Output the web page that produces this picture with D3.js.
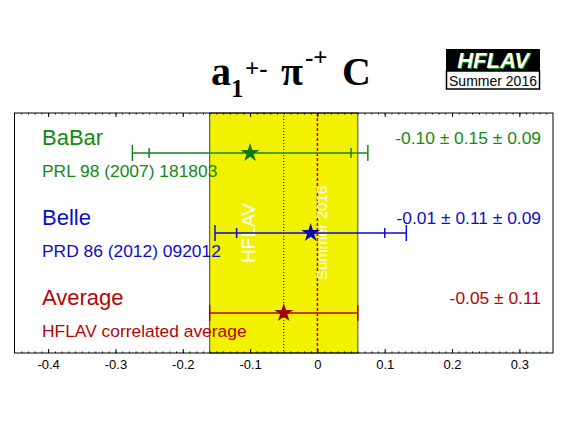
<!DOCTYPE html>
<html>
<head>
<meta charset="utf-8">
<script src="https://cdn.jsdelivr.net/npm/d3@7"></script>
<style>
  body { margin: 0; background: #fff; }
  svg { display: block; }
  text { font-family: "Liberation Sans", Helvetica, Arial, sans-serif; }
</style>
</head>
<body>
<svg width="567" height="425"></svg>
<script>
// measurements (HFLAV Summer 2016, a1 pi C)
var experiments = ['BaBar', 'Belle', 'Average'];
var references = ['PRL 98 (2007) 181803', 'PRD 86 (2012) 092012', 'HFLAV correlated average'];
var centralValues = [-0.10, -0.01, -0.05];
var statErrors = [0.15, 0.11, 0.11];
var systErrors = [0.09, 0.09, 0];
var valueLabels = ['-0.10 \u00b1 0.15 \u00b1 0.09', '-0.01 \u00b1 0.11 \u00b1 0.09', '-0.05 \u00b1 0.11'];
var tickValues = [-0.4, -0.3, -0.2, -0.1, 0, 0.1, 0.2, 0.3];
var tickLabels = ['-0.4', '-0.3', '-0.2', '-0.1', '0', '0.1', '0.2', '0.3'];

var avg = centralValues[2], avgErr = statErrors[2];

var svg = d3.select('svg');
// note: 'top' is window.top, so use other names
var plotL = 14.5, plotR = 553, plotT = 113, plotB = 353;

var x = d3.scaleLinear().domain([-0.45, 0.35]).range([plotL, plotR]);
var y = d3.scalePoint().domain(experiments).range([153, 313]);
var color = d3.scaleOrdinal().domain(experiments).range(['#138a13', '#0c0cd0', '#b40505']);

var rows = experiments.map(function(e, i) {
  var tot = Math.sqrt(statErrors[i]*statErrors[i] + systErrors[i]*systErrors[i]);
  return {name:e, ref:references[i], val:centralValues[i], stat:statErrors[i], syst:systErrors[i], tot:tot, label:valueLabels[i]};
});

// average band
svg.append('rect')
  .attr('x', x(avg - avgErr)).attr('y', plotT)
  .attr('width', x(avg + avgErr) - x(avg - avgErr)).attr('height', plotB - plotT)
  .style('fill', '#f2f200')
  .style('stroke', '#444').style('stroke-width', 1);

// average line (dotted) and zero line (dashed)
svg.append('line')
  .attr('x1', x(avg)).attr('x2', x(avg)).attr('y1', plotT).attr('y2', plotB)
  .style('stroke', '#000').style('stroke-width', 1).style('stroke-dasharray', '1,2');
svg.append('line')
  .attr('x1', x(0)).attr('x2', x(0)).attr('y1', plotT).attr('y2', plotB)
  .style('stroke', '#c00000').style('stroke-width', 1.5).style('stroke-dasharray', '3,2');

// watermark
svg.append('text')
  .attr('transform', 'translate(255,233) rotate(-90)')
  .attr('text-anchor', 'middle')
  .style('font-size', '19px').style('fill', '#fff')
  .text('HFLAV');
svg.append('text')
  .attr('transform', 'translate(327,233) rotate(-90)')
  .attr('text-anchor', 'middle')
  .style('font-size', '15px').style('fill', '#fff')
  .text('Summer 2016');

// error bars
var bars = svg.selectAll('g.row')
  .data(rows)
  .enter()
  .append('g')
  .attr('class', 'row')
  .style('stroke', function(d){return color(d.name);})
  .style('stroke-width', 1.5);

bars.append('line')
  .attr('x1', function(d){return x(d.val - d.tot);})
  .attr('x2', function(d){return x(d.val + d.tot);})
  .attr('y1', function(d){return y(d.name);})
  .attr('y2', function(d){return y(d.name);});

// outer caps (total error)
[-1, 1].forEach(function(s) {
  bars.append('line')
    .attr('x1', function(d){return x(d.val + s*d.tot);})
    .attr('x2', function(d){return x(d.val + s*d.tot);})
    .attr('y1', function(d){return y(d.name) - 8;})
    .attr('y2', function(d){return y(d.name) + 8;});
  // inner caps (stat only), only when there is a syst part
  bars.filter(function(d){return d.syst > 0;})
    .append('line')
    .attr('x1', function(d){return x(d.val + s*d.stat);})
    .attr('x2', function(d){return x(d.val + s*d.stat);})
    .attr('y1', function(d){return y(d.name) - 5;})
    .attr('y2', function(d){return y(d.name) + 5;});
});

// stars
svg.selectAll('path.star')
  .data(rows)
  .enter()
  .append('path')
  .attr('class', 'star')
  .attr('d', d3.symbol().type(d3.symbolStar).size(110))
  .attr('transform', function(d){return 'translate(' + x(d.val) + ',' + y(d.name) + ')';})
  .style('fill', function(d){return d3.color(color(d.name)).darker(0.4);});

// labels
svg.selectAll('text.name')
  .data(rows)
  .enter()
  .append('text')
  .attr('class', 'name')
  .attr('x', 42)
  .attr('y', function(d){return y(d.name) - 8;})
  .style('font-size', '22px')
  .style('fill', function(d){return color(d.name);})
  .text(function(d){return d.name;});

svg.selectAll('text.ref')
  .data(rows)
  .enter()
  .append('text')
  .attr('class', 'ref')
  .attr('x', 42)
  .attr('y', function(d){return y(d.name) + 24;})
  .style('font-size', '17.4px')
  .style('fill', function(d){return color(d.name);})
  .text(function(d){return d.ref;});

svg.selectAll('text.value')
  .data(rows)
  .enter()
  .append('text')
  .attr('class', 'value')
  .attr('x', 541)
  .attr('y', function(d){return y(d.name) - 9;})
  .attr('text-anchor', 'end')
  .style('font-size', '17.4px')
  .style('fill', function(d){return color(d.name);})
  .text(function(d){return d.label;});

// frame
svg.append('rect')
  .attr('x', plotL).attr('y', plotT)
  .attr('width', plotR - plotL).attr('height', plotB - plotT)
  .style('fill', 'none').style('stroke', '#000').style('stroke-width', 1);

// axes
var minor = d3.range(-44, 35).map(function(i){return i/100;});
var bottomAxis = d3.axisBottom(x)
  .tickValues(tickValues)
  .tickSize(-4)
  .tickPadding(7)
  .tickFormat(function(d, i){return tickLabels[i];});
var gb = svg.append('g').attr('transform', 'translate(0,' + plotB + ')').call(bottomAxis);
gb.select('.domain').remove();
gb.selectAll('text').style('font-size', '13px').style('font-family', '"Liberation Sans", Arial, sans-serif');

var gbm = svg.append('g').attr('transform', 'translate(0,' + plotB + ')')
  .call(d3.axisBottom(x).tickValues(minor).tickSize(-1.5).tickFormat(''));
gbm.select('.domain').remove();

var gt = svg.append('g').attr('transform', 'translate(0,' + plotT + ')')
  .call(d3.axisTop(x).tickValues(tickValues).tickSize(-4).tickFormat(''));
gt.select('.domain').remove();
var gtm = svg.append('g').attr('transform', 'translate(0,' + plotT + ')')
  .call(d3.axisTop(x).tickValues(minor).tickSize(-1.5).tickFormat(''));
gtm.select('.domain').remove();

// title
var title = svg.append('text')
  .style('font-family', '"Liberation Serif", "Times New Roman", serif')
  .style('font-weight', 'bold')
  .style('fill', '#000');
title.append('tspan').attr('x', 211).attr('y', 85).style('font-size', '40px').text('a');
title.append('tspan').attr('x', 231).attr('y', 97).style('font-size', '25px').text('1');
title.append('tspan').attr('x', 245).attr('y', 77).style('font-size', '25px').text('+-');
title.append('tspan').attr('x', 281).attr('y', 85).style('font-size', '40px').text('\u03c0');
title.append('tspan').attr('x', 305).attr('y', 66).style('font-size', '25px').text('-+');
title.append('tspan').attr('x', 342).attr('y', 85).style('font-size', '40px').text('C');

// HFLAV logo
var logo = svg.append('g');
logo.append('rect').attr('x', 446).attr('y', 49).attr('width', 94).attr('height', 22).style('fill', '#000');
logo.append('rect').attr('x', 446.5).attr('y', 71).attr('width', 93).attr('height', 18)
  .style('fill', '#fff').style('stroke', '#000').style('stroke-width', 1.5);
logo.append('text').attr('x', 494).attr('y', 69).attr('text-anchor', 'middle')
  .style('font-size', '22px').style('font-weight', 'bold').style('font-style', 'italic')
  .style('fill', '#1a9a1a').text('HFLAV');
logo.append('text').attr('x', 493).attr('y', 68).attr('text-anchor', 'middle')
  .style('font-size', '22px').style('font-weight', 'bold').style('font-style', 'italic')
  .style('fill', '#fff').text('HFLAV');
logo.append('text').attr('x', 493).attr('y', 86).attr('text-anchor', 'middle')
  .style('font-size', '14px').style('fill', '#000').text('Summer 2016');
</script>
</body>
</html>
